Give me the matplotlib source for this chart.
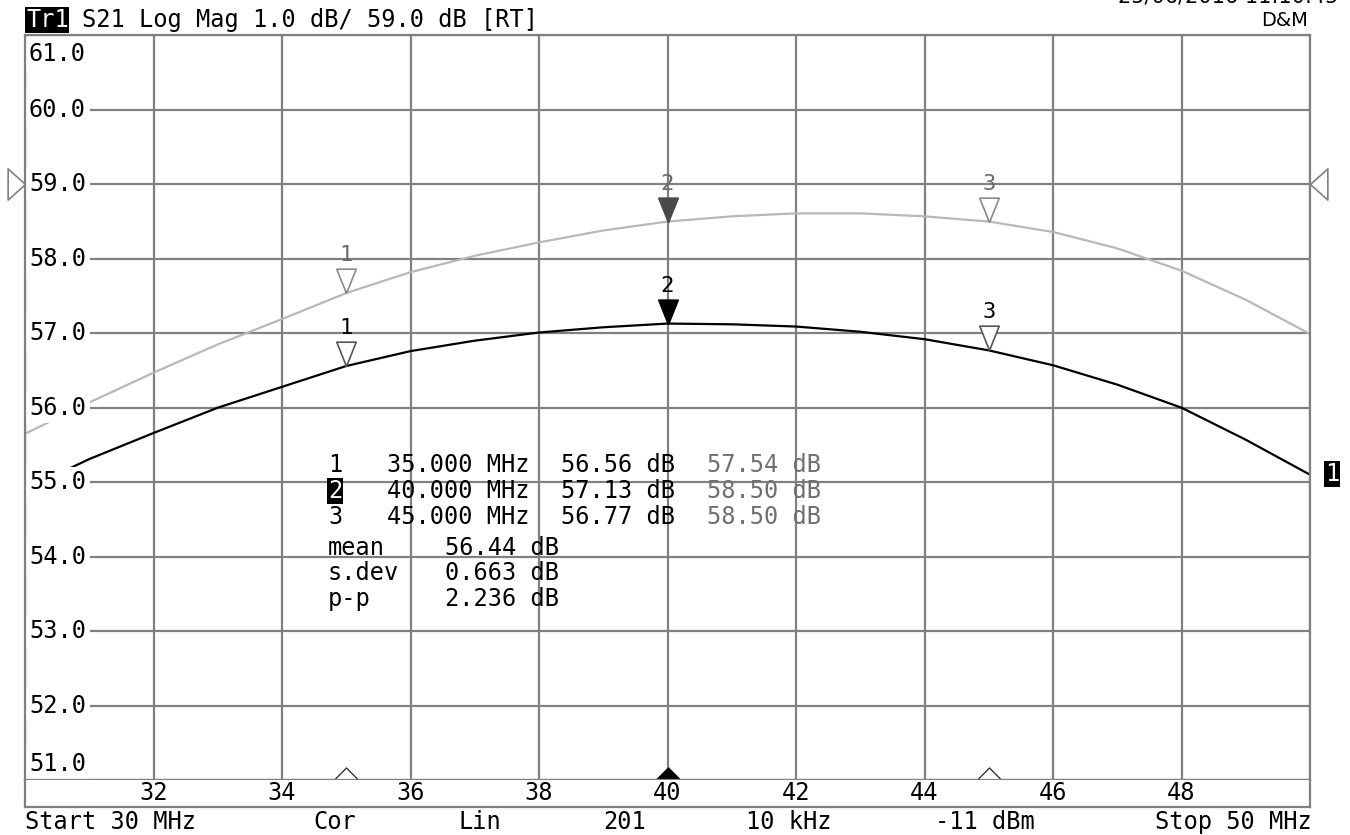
import matplotlib
matplotlib.use('Agg')
import matplotlib.pyplot as plt
import matplotlib.transforms as mtransforms
from matplotlib.markers import MarkerStyle

# S21 trace (black) and memory trace (grey), 30-50 MHz
freq_mhz = [30, 31, 32, 33, 34, 35, 36, 37, 38, 39, 40,
            41, 42, 43, 44, 45, 46, 47, 48, 49, 50]
trace_db = [54.90, 55.31, 55.66, 56.00, 56.28, 56.56, 56.76, 56.90, 57.01, 57.08, 57.13,
            57.12, 57.09, 57.02, 56.92, 56.77, 56.57, 56.31, 56.00, 55.57, 55.10]
memory_db = [55.65, 56.07, 56.47, 56.85, 57.19, 57.54, 57.82, 58.04, 58.22, 58.38, 58.50,
             58.57, 58.61, 58.61, 58.57, 58.50, 58.36, 58.14, 57.84, 57.45, 56.99]

marker_ids = ['1', '2', '3']
marker_freq = [35, 40, 45]
marker_trace_db = [56.56, 57.13, 56.77]
marker_memory_db = [57.54, 58.50, 58.50]
active_marker = '2'

stat_names = ['mean', 's.dev', 'p-p']
stat_values = ['56.44 dB', '0.663 dB', '2.236 dB']

y_ticks = [51, 52, 53, 54, 55, 56, 57, 58, 59, 60, 61]
x_ticks = [32, 34, 36, 38, 40, 42, 44, 46, 48]
ref_level = 59.0

status_texts = ['Start 30 MHz', 'Cor', 'Lin', '201', '10 kHz', '-11 dBm', 'Stop 50 MHz']

W, H = 1350, 835
MONO = 'DejaVu Sans Mono'
FS = 17
GRID = '#808080'
GREY_TRACE = '#b8b8b8'

plt.rcParams['font.family'] = [MONO, 'DejaVu Sans']


def px(x, y):
    # pixel position (from top left) -> figure fraction
    return x / W, 1 - y / H


fig = plt.figure(figsize=(W / 100, H / 100), dpi=100)
ax = fig.add_axes([25 / W, 1 - 780 / H, 1285 / W, (780 - 35.4) / H])
ax.set_xlim(30, 50)
ax.set_ylim(51, 61)
ax.set_xticks(range(30, 51, 2))
ax.set_yticks(y_ticks)
ax.tick_params(left=False, bottom=False, labelbottom=False, labelleft=False)
ax.grid(True, color=GRID, lw=1.6)
for sp in ax.spines.values():
    sp.set_color(GRID)
    sp.set_linewidth(1.6)
    sp.set_zorder(10)

ax.plot(freq_mhz, memory_db, color=GREY_TRACE, lw=1.6, zorder=3)
ax.plot(freq_mhz, trace_db, color='black', lw=1.6, zorder=3)

# y labels sit inside the grid with a white background reaching the left edge
for v in y_ticks:
    if v == y_ticks[-1]:
        va, dy = 'top', -7
    elif v == y_ticks[0]:
        va, dy = 'bottom', 4
    else:
        va, dy = 'center', 0
    ax.annotate(f'{v:.1f}', xy=(30, v), xytext=(4, dy), textcoords='offset pixels',
                ha='left', va=va, fontsize=FS, color='black', zorder=6,
                bbox=dict(fc='white', ec='none', pad=2.6))

# marker triangles, tip on the trace
down_tri = MarkerStyle([(0, 0), (-0.4, 1), (0.4, 1), (0, 0)])
for ids, vals, edge, fill, txtc in [
        (marker_ids, marker_memory_db, '#8a8a8a', '#4a4a4a', '#6a6a6a'),
        (marker_ids, marker_trace_db, '#555555', 'black', 'black')]:
    for mid, f, v in zip(ids, marker_freq, vals):
        act = mid == active_marker
        ax.plot([f], [v], marker=down_tri, ms=35, ls='none', zorder=7,
                mfc=fill if act else 'white', mec=fill if act else edge, mew=1.2)
        ax.annotate(mid, xy=(f, v), xytext=(0, 38), textcoords='offset pixels',
                    ha='center', va='center', fontsize=16, color=txtc, zorder=7)

# stimulus markers on the bottom edge
up_tri = MarkerStyle([(-0.5, 0), (0.5, 0), (0, 0.5), (-0.5, 0)])
for mid, f in zip(marker_ids, marker_freq):
    act = mid == active_marker
    ax.plot([f], [51], marker=up_tri, ms=18, ls='none', clip_on=False, zorder=8,
            mfc='black' if act else 'white', mec='black' if act else '#333333', mew=1)

# reference level arrows on both sides
left_arrow = MarkerStyle([(0, 0), (-1, 0.9), (-1, -0.9), (0, 0)])
right_arrow = MarkerStyle([(0, 0), (1, 0.9), (1, -0.9), (0, 0)])
ax.plot([30], [ref_level], marker=left_arrow, ms=25, mfc='white', mec=GRID, mew=1.2,
        ls='none', clip_on=False, zorder=8)
ax.plot([50], [ref_level], marker=right_arrow, ms=25, mfc='white', mec=GRID, mew=1.2,
        ls='none', clip_on=False, zorder=8)

# marker readout table
row_y = [465, 491, 517]
for mid, f, tv, mv, yy in zip(marker_ids, marker_freq, marker_trace_db, marker_memory_db, row_y):
    if mid == active_marker:
        fig.text(*px(328, yy), mid, fontsize=FS, color='white', va='center', ha='left',
                 bbox=dict(fc='black', ec='none', pad=0.5))
    else:
        fig.text(*px(328, yy), mid, fontsize=FS, color='black', va='center', ha='left')
    fig.text(*px(387, yy), f'{f:.3f} MHz', fontsize=FS, va='center', ha='left')
    fig.text(*px(561, yy), f'{tv:.2f} dB', fontsize=FS, va='center', ha='left')
    fig.text(*px(707, yy), f'{mv:.2f} dB', fontsize=FS, color='#707070', va='center', ha='left')

for name, val, yy in zip(stat_names, stat_values, [548, 573, 599]):
    fig.text(*px(328, yy), name, fontsize=FS, va='center', ha='left')
    fig.text(*px(445, yy), val, fontsize=FS, va='center', ha='left')

# header
fig.text(*px(26, 20), 'Tr1', fontsize=FS, color='white', va='center', ha='left',
         bbox=dict(fc='black', ec='none', pad=0.5))
fig.text(*px(82, 20), 'S21 Log Mag 1.0 dB/ 59.0 dB [RT]', fontsize=FS, va='center', ha='left')
fig.text(*px(1308, 21), 'D&M', fontsize=14, family='DejaVu Sans', va='center', ha='right')
# timestamp runs off the top of the screen capture
fig.text(*px(1338, -4), '25/06/2016 11:10:45', fontsize=15, family='DejaVu Sans',
         va='center', ha='right')

# trace number flag on the right
fig.text(*px(1332, 474), '1', fontsize=FS, color='white', va='center', ha='center',
         bbox=dict(fc='black', ec='none', pad=0.5))

# frequency label strip under the grid
ax2 = fig.add_axes([25 / W, 1 - 807 / H, 1285 / W, 27 / H])
ax2.set_xlim(30, 50)
ax2.set_ylim(0, 1)
ax2.set_xticks([])
ax2.set_yticks([])
for name, sp in ax2.spines.items():
    sp.set_color(GRID)
    sp.set_linewidth(1.6)
    if name == 'top':
        sp.set_visible(False)
trans = mtransforms.blended_transform_factory(ax2.transData, ax2.transAxes)
for x in x_ticks:
    ax2.text(x, 0.5, str(x), transform=trans, ha='center', va='center', fontsize=FS)

# status line
status_x = [25, 335, 480, 625, 789, 985, 1312]
for i, (t, x) in enumerate(zip(status_texts, status_x)):
    ha = 'left' if i == 0 else ('right' if i == len(status_texts) - 1 else 'center')
    fig.text(*px(x, 822), t, fontsize=FS, va='center', ha=ha)

fig.savefig('out.png', dpi=100, facecolor='white')
